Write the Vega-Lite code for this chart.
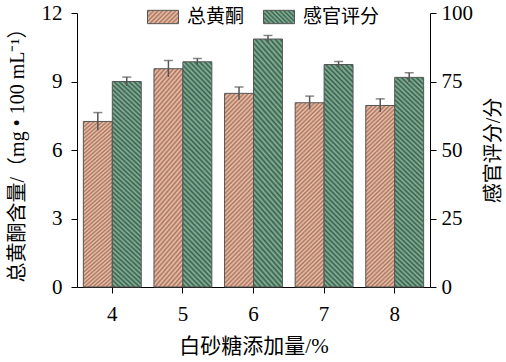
{
  "$schema": "https://vega.github.io/schema/vega-lite/v6.json",
  "width": 353,
  "height": 274,
  "autosize": "none",
  "padding": {"left": 77, "top": 13, "right": 76, "bottom": 75},
  "background": "white",
  "config": {"view": {"stroke": null}},
  "data": {"values": [
    {"sugar": "4", "series": "总黄酮", "value": 7.25, "lo": 6.86, "hi": 7.64},
    {"sugar": "5", "series": "总黄酮", "value": 9.56, "lo": 9.2, "hi": 9.92},
    {"sugar": "6", "series": "总黄酮", "value": 8.48, "lo": 8.2, "hi": 8.76},
    {"sugar": "7", "series": "总黄酮", "value": 8.07, "lo": 7.78, "hi": 8.36},
    {"sugar": "8", "series": "总黄酮", "value": 7.95, "lo": 7.66, "hi": 8.24},
    {"sugar": "4", "series": "感官评分", "value": 75.0, "lo": 73.4, "hi": 76.6},
    {"sugar": "5", "series": "感官评分", "value": 82.2, "lo": 81.0, "hi": 83.4},
    {"sugar": "6", "series": "感官评分", "value": 90.5, "lo": 89.2, "hi": 91.8},
    {"sugar": "7", "series": "感官评分", "value": 81.2, "lo": 80.1, "hi": 82.3},
    {"sugar": "8", "series": "感官评分", "value": 76.5, "lo": 74.8, "hi": 78.2}
  ]},
  "encoding": {
    "x": {
      "field": "sugar", "type": "nominal",
      "scale": {"paddingInner": 0.18, "paddingOuter": 0.09},
      "axis": {
        "title": "白砂糖添加量/%", "labelAngle": 0, "grid": false,
        "domainColor": "#000000", "tickColor": "#000000", "tickSize": 6, "domainWidth": 1, "tickWidth": 1,
        "labelFont": "'Liberation Serif', 'Noto Sans CJK SC'", "labelFontSize": 21, "labelColor": "#000000", "labelPadding": 10,
        "titleFont": "'Liberation Serif', 'Noto Sans CJK SC'", "titleFontSize": 21, "titleFontWeight": "normal", "titleColor": "#000000",
        "titleY": 59.5, "titleBaseline": "middle"
      }
    },
    "xOffset": {"field": "series", "type": "nominal", "scale": {"domain": ["总黄酮", "感官评分"], "paddingInner": 0, "paddingOuter": 0}}
  },
  "layer": [
    {
      "transform": [{"filter": "datum.series === '总黄酮'"}],
      "layer": [
        {
          "mark": {"type": "bar", "stroke": "#555555", "strokeWidth": 1, "fill": {"gradient": "linear", "x1": 0, "y1": 0, "x2": 0.17341, "y2": 1.12717, "stops": [
{"offset":0,"color":"#F2C2A5"},{"offset":0.01,"color":"#A27565"},{"offset":0.02,"color":"#F2C2A5"},{"offset":0.03,"color":"#A27565"},{"offset":0.04,"color":"#F2C2A5"},{"offset":0.05,"color":"#A27565"},{"offset":0.06,"color":"#F2C2A5"},{"offset":0.07,"color":"#A27565"},{"offset":0.08,"color":"#F2C2A5"},{"offset":0.09,"color":"#A27565"},
{"offset":0.1,"color":"#F2C2A5"},{"offset":0.11,"color":"#A27565"},{"offset":0.12,"color":"#F2C2A5"},{"offset":0.13,"color":"#A27565"},{"offset":0.14,"color":"#F2C2A5"},{"offset":0.15,"color":"#A27565"},{"offset":0.16,"color":"#F2C2A5"},{"offset":0.17,"color":"#A27565"},{"offset":0.18,"color":"#F2C2A5"},{"offset":0.19,"color":"#A27565"},
{"offset":0.2,"color":"#F2C2A5"},{"offset":0.21,"color":"#A27565"},{"offset":0.22,"color":"#F2C2A5"},{"offset":0.23,"color":"#A27565"},{"offset":0.24,"color":"#F2C2A5"},{"offset":0.25,"color":"#A27565"},{"offset":0.26,"color":"#F2C2A5"},{"offset":0.27,"color":"#A27565"},{"offset":0.28,"color":"#F2C2A5"},{"offset":0.29,"color":"#A27565"},
{"offset":0.3,"color":"#F2C2A5"},{"offset":0.31,"color":"#A27565"},{"offset":0.32,"color":"#F2C2A5"},{"offset":0.33,"color":"#A27565"},{"offset":0.34,"color":"#F2C2A5"},{"offset":0.35,"color":"#A27565"},{"offset":0.36,"color":"#F2C2A5"},{"offset":0.37,"color":"#A27565"},{"offset":0.38,"color":"#F2C2A5"},{"offset":0.39,"color":"#A27565"},
{"offset":0.4,"color":"#F2C2A5"},{"offset":0.41,"color":"#A27565"},{"offset":0.42,"color":"#F2C2A5"},{"offset":0.43,"color":"#A27565"},{"offset":0.44,"color":"#F2C2A5"},{"offset":0.45,"color":"#A27565"},{"offset":0.46,"color":"#F2C2A5"},{"offset":0.47,"color":"#A27565"},{"offset":0.48,"color":"#F2C2A5"},{"offset":0.49,"color":"#A27565"},
{"offset":0.5,"color":"#F2C2A5"},{"offset":0.51,"color":"#A27565"},{"offset":0.52,"color":"#F2C2A5"},{"offset":0.53,"color":"#A27565"},{"offset":0.54,"color":"#F2C2A5"},{"offset":0.55,"color":"#A27565"},{"offset":0.56,"color":"#F2C2A5"},{"offset":0.57,"color":"#A27565"},{"offset":0.58,"color":"#F2C2A5"},{"offset":0.59,"color":"#A27565"},
{"offset":0.6,"color":"#F2C2A5"},{"offset":0.61,"color":"#A27565"},{"offset":0.62,"color":"#F2C2A5"},{"offset":0.63,"color":"#A27565"},{"offset":0.64,"color":"#F2C2A5"},{"offset":0.65,"color":"#A27565"},{"offset":0.66,"color":"#F2C2A5"},{"offset":0.67,"color":"#A27565"},{"offset":0.68,"color":"#F2C2A5"},{"offset":0.69,"color":"#A27565"},
{"offset":0.7,"color":"#F2C2A5"},{"offset":0.71,"color":"#A27565"},{"offset":0.72,"color":"#F2C2A5"},{"offset":0.73,"color":"#A27565"},{"offset":0.74,"color":"#F2C2A5"},{"offset":0.75,"color":"#A27565"},{"offset":0.76,"color":"#F2C2A5"},{"offset":0.77,"color":"#A27565"},{"offset":0.78,"color":"#F2C2A5"},{"offset":0.79,"color":"#A27565"},
{"offset":0.8,"color":"#F2C2A5"},{"offset":0.81,"color":"#A27565"},{"offset":0.82,"color":"#F2C2A5"},{"offset":0.83,"color":"#A27565"},{"offset":0.84,"color":"#F2C2A5"},{"offset":0.85,"color":"#A27565"},{"offset":0.86,"color":"#F2C2A5"},{"offset":0.87,"color":"#A27565"},{"offset":0.88,"color":"#F2C2A5"},{"offset":0.89,"color":"#A27565"},
{"offset":0.9,"color":"#F2C2A5"},{"offset":0.91,"color":"#A27565"},{"offset":0.92,"color":"#F2C2A5"},{"offset":0.93,"color":"#A27565"},{"offset":0.94,"color":"#F2C2A5"},{"offset":0.95,"color":"#A27565"},{"offset":0.96,"color":"#F2C2A5"},{"offset":0.97,"color":"#A27565"},{"offset":0.98,"color":"#F2C2A5"},{"offset":0.99,"color":"#A27565"},
{"offset":1,"color":"#F2C2A5"}
          ]}},
          "encoding": {
            "y": {
              "field": "value", "type": "quantitative",
              "scale": {"domain": [0, 12], "nice": false, "zero": true},
              "axis": {
                "orient": "left", "values": [0, 3, 6, 9, 12], "grid": false,
                "title": "总黄酮含量/（mg • 100 mL⁻¹）",
                "domainColor": "#000000", "tickColor": "#000000", "tickSize": 6, "domainWidth": 1, "tickWidth": 1,
                "labelFont": "'Liberation Serif', 'Noto Sans CJK SC'", "labelFontSize": 21, "labelColor": "#000000", "labelPadding": 9,
                "titleFont": "'Liberation Serif', 'Noto Sans CJK SC'", "titleFontSize": 20, "titleFontWeight": "normal", "titleColor": "#000000",
                "titleAngle": 270, "titleX": -60, "titleY": 137, "titleAlign": "center", "titleBaseline": "middle"
              }
            }
          }
        },
        {
          "mark": {"type": "rule", "strokeWidth": 1.5},
          "encoding": {
            "y": {"field": "lo", "type": "quantitative"},
            "y2": {"field": "hi"},
            "stroke": {
              "field": "series", "type": "nominal",
              "scale": {"domain": ["总黄酮", "感官评分"], "range": ["#555555", "#555555"]},
              "legend": {
                "orient": "none", "legendX": 70, "legendY": -12, "direction": "horizontal", "title": null,
                "symbolType": "M-1,-0.43H1V0.43H-1Z", "symbolSize": 961, "symbolStrokeWidth": 1,
                "labelFont": "'Noto Sans CJK SC'", "labelFontSize": 19, "labelColor": "#000000", "labelOffset": 8,
                "columnPadding": 16,
                "encode": {"symbols": {"update": {
                  "stroke": {"value": "#555555"},
                  "opacity": {"value": 1},
                  "fill": [
                    {"test": "datum.value === '总黄酮'", "value": {"gradient": "linear", "x1": 0, "y1": 0, "x2": 1.2068, "y2": 0.5189, "stops": [
{"offset":0,"color":"#F2C2A5"},{"offset":0.05,"color":"#A27565"},{"offset":0.1,"color":"#F2C2A5"},{"offset":0.15,"color":"#A27565"},{"offset":0.2,"color":"#F2C2A5"},{"offset":0.25,"color":"#A27565"},{"offset":0.3,"color":"#F2C2A5"},{"offset":0.35,"color":"#A27565"},{"offset":0.4,"color":"#F2C2A5"},{"offset":0.45,"color":"#A27565"},{"offset":0.5,"color":"#F2C2A5"},{"offset":0.55,"color":"#A27565"},{"offset":0.6,"color":"#F2C2A5"},{"offset":0.65,"color":"#A27565"},{"offset":0.7,"color":"#F2C2A5"},{"offset":0.75,"color":"#A27565"},{"offset":0.8,"color":"#F2C2A5"},{"offset":0.85,"color":"#A27565"},{"offset":0.9,"color":"#F2C2A5"},{"offset":0.95,"color":"#A27565"},{"offset":1,"color":"#F2C2A5"}
                    ]}},
                    {"value": {"gradient": "linear", "x1": 1, "y1": 0, "x2": -0.2068, "y2": 0.5189, "stops": [
{"offset":0,"color":"#86B59C"},{"offset":0.05,"color":"#3A5E4A"},{"offset":0.1,"color":"#86B59C"},{"offset":0.15,"color":"#3A5E4A"},{"offset":0.2,"color":"#86B59C"},{"offset":0.25,"color":"#3A5E4A"},{"offset":0.3,"color":"#86B59C"},{"offset":0.35,"color":"#3A5E4A"},{"offset":0.4,"color":"#86B59C"},{"offset":0.45,"color":"#3A5E4A"},{"offset":0.5,"color":"#86B59C"},{"offset":0.55,"color":"#3A5E4A"},{"offset":0.6,"color":"#86B59C"},{"offset":0.65,"color":"#3A5E4A"},{"offset":0.7,"color":"#86B59C"},{"offset":0.75,"color":"#3A5E4A"},{"offset":0.8,"color":"#86B59C"},{"offset":0.85,"color":"#3A5E4A"},{"offset":0.9,"color":"#86B59C"},{"offset":0.95,"color":"#3A5E4A"},{"offset":1,"color":"#86B59C"}
                    ]}}
                  ]
                }}}
              }
            }
          }
        },
        {
          "mark": {"type": "tick", "size": 9, "thickness": 1.5, "color": "#555555"},
          "encoding": {"y": {"field": "hi", "type": "quantitative"}}
        }
      ]
    },
    {
      "transform": [{"filter": "datum.series === '感官评分'"}],
      "layer": [
        {
          "mark": {"type": "bar", "stroke": "#555555", "strokeWidth": 1, "fill": {"gradient": "linear", "x1": 1, "y1": 0, "x2": 0.85364, "y2": 1.11234, "stops": [
{"offset":0,"color":"#86B59C"},{"offset":0.01,"color":"#3A5E4A"},{"offset":0.02,"color":"#86B59C"},{"offset":0.03,"color":"#3A5E4A"},{"offset":0.04,"color":"#86B59C"},{"offset":0.05,"color":"#3A5E4A"},{"offset":0.06,"color":"#86B59C"},{"offset":0.07,"color":"#3A5E4A"},{"offset":0.08,"color":"#86B59C"},{"offset":0.09,"color":"#3A5E4A"},
{"offset":0.1,"color":"#86B59C"},{"offset":0.11,"color":"#3A5E4A"},{"offset":0.12,"color":"#86B59C"},{"offset":0.13,"color":"#3A5E4A"},{"offset":0.14,"color":"#86B59C"},{"offset":0.15,"color":"#3A5E4A"},{"offset":0.16,"color":"#86B59C"},{"offset":0.17,"color":"#3A5E4A"},{"offset":0.18,"color":"#86B59C"},{"offset":0.19,"color":"#3A5E4A"},
{"offset":0.2,"color":"#86B59C"},{"offset":0.21,"color":"#3A5E4A"},{"offset":0.22,"color":"#86B59C"},{"offset":0.23,"color":"#3A5E4A"},{"offset":0.24,"color":"#86B59C"},{"offset":0.25,"color":"#3A5E4A"},{"offset":0.26,"color":"#86B59C"},{"offset":0.27,"color":"#3A5E4A"},{"offset":0.28,"color":"#86B59C"},{"offset":0.29,"color":"#3A5E4A"},
{"offset":0.3,"color":"#86B59C"},{"offset":0.31,"color":"#3A5E4A"},{"offset":0.32,"color":"#86B59C"},{"offset":0.33,"color":"#3A5E4A"},{"offset":0.34,"color":"#86B59C"},{"offset":0.35,"color":"#3A5E4A"},{"offset":0.36,"color":"#86B59C"},{"offset":0.37,"color":"#3A5E4A"},{"offset":0.38,"color":"#86B59C"},{"offset":0.39,"color":"#3A5E4A"},
{"offset":0.4,"color":"#86B59C"},{"offset":0.41,"color":"#3A5E4A"},{"offset":0.42,"color":"#86B59C"},{"offset":0.43,"color":"#3A5E4A"},{"offset":0.44,"color":"#86B59C"},{"offset":0.45,"color":"#3A5E4A"},{"offset":0.46,"color":"#86B59C"},{"offset":0.47,"color":"#3A5E4A"},{"offset":0.48,"color":"#86B59C"},{"offset":0.49,"color":"#3A5E4A"},
{"offset":0.5,"color":"#86B59C"},{"offset":0.51,"color":"#3A5E4A"},{"offset":0.52,"color":"#86B59C"},{"offset":0.53,"color":"#3A5E4A"},{"offset":0.54,"color":"#86B59C"},{"offset":0.55,"color":"#3A5E4A"},{"offset":0.56,"color":"#86B59C"},{"offset":0.57,"color":"#3A5E4A"},{"offset":0.58,"color":"#86B59C"},{"offset":0.59,"color":"#3A5E4A"},
{"offset":0.6,"color":"#86B59C"},{"offset":0.61,"color":"#3A5E4A"},{"offset":0.62,"color":"#86B59C"},{"offset":0.63,"color":"#3A5E4A"},{"offset":0.64,"color":"#86B59C"},{"offset":0.65,"color":"#3A5E4A"},{"offset":0.66,"color":"#86B59C"},{"offset":0.67,"color":"#3A5E4A"},{"offset":0.68,"color":"#86B59C"},{"offset":0.69,"color":"#3A5E4A"},
{"offset":0.7,"color":"#86B59C"},{"offset":0.71,"color":"#3A5E4A"},{"offset":0.72,"color":"#86B59C"},{"offset":0.73,"color":"#3A5E4A"},{"offset":0.74,"color":"#86B59C"},{"offset":0.75,"color":"#3A5E4A"},{"offset":0.76,"color":"#86B59C"},{"offset":0.77,"color":"#3A5E4A"},{"offset":0.78,"color":"#86B59C"},{"offset":0.79,"color":"#3A5E4A"},
{"offset":0.8,"color":"#86B59C"},{"offset":0.81,"color":"#3A5E4A"},{"offset":0.82,"color":"#86B59C"},{"offset":0.83,"color":"#3A5E4A"},{"offset":0.84,"color":"#86B59C"},{"offset":0.85,"color":"#3A5E4A"},{"offset":0.86,"color":"#86B59C"},{"offset":0.87,"color":"#3A5E4A"},{"offset":0.88,"color":"#86B59C"},{"offset":0.89,"color":"#3A5E4A"},
{"offset":0.9,"color":"#86B59C"},{"offset":0.91,"color":"#3A5E4A"},{"offset":0.92,"color":"#86B59C"},{"offset":0.93,"color":"#3A5E4A"},{"offset":0.94,"color":"#86B59C"},{"offset":0.95,"color":"#3A5E4A"},{"offset":0.96,"color":"#86B59C"},{"offset":0.97,"color":"#3A5E4A"},{"offset":0.98,"color":"#86B59C"},{"offset":0.99,"color":"#3A5E4A"},
{"offset":1,"color":"#86B59C"}
          ]}},
          "encoding": {
            "y": {
              "field": "value", "type": "quantitative",
              "scale": {"domain": [0, 100], "nice": false, "zero": true},
              "axis": {
                "orient": "right", "values": [0, 25, 50, 75, 100], "grid": false,
                "title": "感官评分/分",
                "domainColor": "#000000", "tickColor": "#000000", "tickSize": 6, "domainWidth": 1, "tickWidth": 1,
                "labelFont": "'Liberation Serif', 'Noto Sans CJK SC'", "labelFontSize": 21, "labelColor": "#000000", "labelPadding": 5,
                "titleFont": "'Liberation Serif', 'Noto Sans CJK SC'", "titleFontSize": 20, "titleFontWeight": "normal", "titleColor": "#000000",
                "titleAngle": 270, "titleX": 63, "titleY": 137, "titleAlign": "center", "titleBaseline": "middle"
              }
            }
          }
        },
        {
          "mark": {"type": "rule", "strokeWidth": 1.5, "color": "#555555"},
          "encoding": {
            "y": {"field": "lo", "type": "quantitative"},
            "y2": {"field": "hi"}
          }
        },
        {
          "mark": {"type": "tick", "size": 9, "thickness": 1.5, "color": "#555555"},
          "encoding": {"y": {"field": "hi", "type": "quantitative"}}
        }
      ]
    }
  ],
  "resolve": {"scale": {"y": "independent"}}
}
